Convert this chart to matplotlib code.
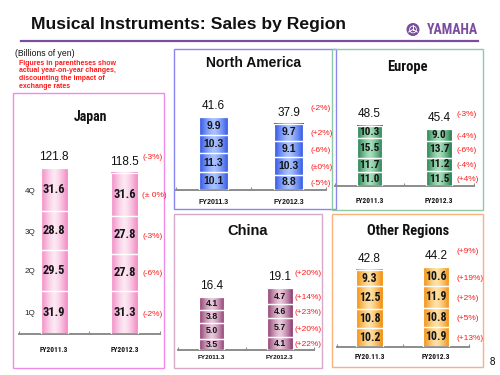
import numpy as np
import matplotlib
matplotlib.use("Agg")
import matplotlib.pyplot as plt
from matplotlib import font_manager
from matplotlib.font_manager import FontProperties
from matplotlib.colors import LinearSegmentedColormap
from matplotlib.patches import Rectangle, Circle
from matplotlib.lines import Line2D

# ---------------- data ----------------
quarters = ['1Q', '2Q', '3Q', '4Q']
years = ['FY2011.3', 'FY2012.3']
years_other = ['FY20.11.3', 'FY2012.3']

japan_2011 = [31.9, 29.5, 28.8, 31.6]
japan_2012 = [31.3, 27.8, 27.8, 31.6]
japan_totals = [121.8, 118.5]
japan_chg = ['(-2%)', '(-6%)', '(-3%)', '(± 0%)']
japan_chg_total = '(-3%)'

na_2011 = [10.1, 11.3, 10.3, 9.9]
na_2012 = [8.8, 10.3, 9.1, 9.7]
na_totals = [41.6, 37.9]
na_chg = ['(-5%)', '(±0%)', '(-6%)', '(+2%)']
na_chg_total = '(-2%)'

eu_2011 = [11.0, 11.7, 15.5, 10.3]
eu_2012 = [11.5, 11.2, 13.7, 9.0]
eu_totals = [48.5, 45.4]
eu_chg = ['(+4%)', '(-4%)', '(-6%)', '(-4%)']
eu_chg_total = '(-3%)'

cn_2011 = [3.5, 5.0, 3.8, 4.1]
cn_2012 = [4.1, 5.7, 4.6, 4.7]
cn_totals = [16.4, 19.1]
cn_chg = ['(+22%)', '(+20%)', '(+23%)', '(+14%)']
cn_chg_total = '(+20%)'

ot_2011 = [10.2, 10.8, 12.5, 9.3]
ot_2012 = [10.9, 10.8, 11.9, 10.6]
ot_totals = [42.8, 44.2]
ot_chg = ['(+13%)', '(+5%)', '(+2%)', '(+19%)']
ot_chg_total = '(+9%)'

# ---------------- fonts ----------------
SANS = ['Liberation Sans', 'DejaVu Sans']


def _find_condensed_bold():
    best, best_rank = None, 99
    for f in font_manager.fontManager.ttflist:
        n = f.name.lower()
        fn = f.fname.lower()
        st = str(f.stretch).lower()
        cond = ('narrow' in n or 'condensed' in n or 'narrow' in fn or 'condensed' in fn
                or st in ('condensed', 'semi-condensed', 'extra-condensed'))
        w = f.weight
        bold = (w in ('bold', 'heavy', 'black', 'demibold', 'semibold')
                or (isinstance(w, int) and w >= 600))
        if not (cond and bold) or 'oblique' in fn or 'italic' in fn:
            continue
        if 'liberation' in n:
            rank = 0
        elif 'arial' in n:
            rank = 1
        elif 'roboto' in n:
            rank = 2
        elif 'open' in n:
            rank = 3
        elif 'dejavu' in n:
            rank = 5
        else:
            rank = 4
        if rank < best_rank:
            best, best_rank = f, rank
    return best, best_rank


_cond, _cond_rank = _find_condensed_bold()
_cscale = 1.0 if _cond_rank <= 1 else (0.95 if _cond_rank <= 4 else 0.88)


def cfont(size):
    if _cond is not None:
        return FontProperties(fname=_cond.fname, size=size * _cscale)
    return FontProperties(family=SANS, weight='bold', size=size * 0.85)


def sfont(size, weight='bold'):
    return FontProperties(family=SANS, weight=weight, size=size)


# ---------------- styling / layout ----------------
W, H = 500, 375
fig = plt.figure(figsize=(5, 3.75), dpi=100)
fig.patch.set_facecolor('white')

RED = '#ff1a1a'
PURPLE = '#7a4d9e'


def fx(px):
    return px / W


def fy(py):
    return 1 - py / H


def box(x0, y0, x1, y1, color):
    fig.add_artist(Rectangle((fx(x0), fy(y1)), fx(x1 - x0), (y1 - y0) / H,
                             transform=fig.transFigure, fill=False,
                             edgecolor=color, lw=1.0, zorder=0))


# Title and header
fig.text(fx(31), fy(24), 'Musical Instruments: Sales by Region', family=SANS,
         fontsize=12.6, fontweight='bold', va='center', ha='left', color='#111111')
fig.add_artist(Line2D([fx(21), fx(478)], [fy(41), fy(41)], transform=fig.transFigure,
                      color=PURPLE, lw=1.6))
fig.text(fx(478), fy(29.5), 'YAMAHA', fontproperties=cfont(10.5),
         color=PURPLE, va='center', ha='right')
cx, cy = 413 / 100, (H - 29.5) / 100
fig.add_artist(Circle((cx, cy), 0.058, transform=fig.dpi_scale_trans, color=PURPLE))
fig.add_artist(Circle((cx, cy), 0.034, transform=fig.dpi_scale_trans, fill=False,
                      edgecolor='white', lw=0.6))
for ang in (90, 210, 330):
    a = np.deg2rad(ang)
    fig.add_artist(Line2D([cx, cx + 0.05 * np.cos(a)], [cy, cy + 0.05 * np.sin(a)],
                          transform=fig.dpi_scale_trans, color='white', lw=0.7))

fig.text(fx(15), fy(53), '(Billions of yen)', family=SANS, fontsize=6.2,
         va='center', ha='left', color='#111111')
fig.text(fx(19), fy(60), 'Figures in parentheses show\nactual year-on-year changes,\n'
         'discounting the impact of\nexchange rates', family=SANS, fontsize=5,
         fontweight='bold', color=RED, va='top', ha='left', linespacing=1.1)
fig.text(fx(492), fy(362), '8', family=SANS, fontsize=7, va='center', ha='center')

# Panel boxes
box(13, 93, 164, 368, '#f08ae6')
box(174, 49, 336, 209, '#8a86f0')
box(332, 49, 483, 210, '#8ccaa6')
box(174, 214, 322, 368, '#d8a8c8')
box(332, 214, 483, 367, '#f9b27e')

panels = [
    dict(name='Japan', v11=japan_2011, v12=japan_2012, tot=japan_totals, chg=japan_chg,
         chg_tot=japan_chg_total, cats=years,
         x0=19, x1=160, base=334, scale=1.36, ymax=140, bw=0.38,
         edge='#f287c4', center='#fde8f3', title_xy=(90, 117),
         title_fp=cfont(10.5), seg_fp=cfont(9.5), tick_fp=cfont(5.6),
         tick_pad=9, pct_dx=3),
    dict(name='North America', v11=na_2011, v12=na_2012, tot=na_totals, chg=na_chg,
         chg_tot=na_chg_total, cats=years,
         x0=176, x1=326, base=190, scale=1.745, ymax=45, bw=0.39,
         edge='#2a4fe4', center='#a9c2ff', title_xy=(253, 63),
         title_fp=sfont(10), seg_fp=sfont(7.5), tick_fp=sfont(5),
         tick_pad=6.5, pct_dx=5),
    dict(name='Europe', v11=eu_2011, v12=eu_2012, tot=eu_totals, chg=eu_chg,
         chg_tot=eu_chg_total, cats=years,
         x0=334.75, x1=473.75, base=185.7, scale=1.24, ymax=52, bw=0.37,
         edge='#1d7a49', center='#a6dfbb', title_xy=(407, 67),
         title_fp=cfont(11), seg_fp=cfont(8.5), tick_fp=cfont(5.6),
         tick_pad=8, pct_dx=3),
    dict(name='China', v11=cn_2011, v12=cn_2012, tot=cn_totals, chg=cn_chg,
         chg_tot=cn_chg_total, cats=years,
         x0=177.5, x1=314, base=350, scale=3.22, ymax=20, bw=0.37,
         edge='#8a3669', center='#e9c8dc', title_xy=(248, 231),
         title_fp=sfont(10.5), seg_fp=sfont(6.3), tick_fp=sfont(4.6),
         tick_pad=3.5, pct_dx=1.5),
    dict(name='Other Regions', v11=ot_2011, v12=ot_2012, tot=ot_totals, chg=ot_chg,
         chg_tot=ot_chg_total, cats=years_other,
         x0=336.5, x1=469, base=346.7, scale=1.80, ymax=48, bw=0.40,
         edge='#f28a04', center='#ffe2a6', title_xy=(408, 231),
         title_fp=cfont(11), seg_fp=cfont(9), tick_fp=cfont(5.6),
         tick_pad=4.5, pct_dx=5),
]

grad = np.abs(np.linspace(-1, 1, 80)) ** 1.4

for p in panels:
    hpx = p['ymax'] * p['scale']
    ax = fig.add_axes([fx(p['x0']), fy(p['base']), fx(p['x1'] - p['x0']), hpx / H])
    ax.patch.set_visible(False)
    for s in ('left', 'right', 'top'):
        ax.spines[s].set_visible(False)
    ax.spines['bottom'].set_color('#8c8c8c')
    ax.spines['bottom'].set_linewidth(1.4)
    ax.set_yticks([])

    cmap = LinearSegmentedColormap.from_list('g', [p['center'], p['edge']])
    xs = np.arange(len(p['cats']))
    series = [p['v11'], p['v12']]
    bw = p['bw']
    for i, vals in enumerate(series):
        bottoms = np.concatenate([[0], np.cumsum(vals)[:-1]])
        bars = ax.bar([xs[i]] * len(vals), vals, bw, bottom=bottoms,
                      facecolor='none', edgecolor='white', lw=0.9, zorder=3)
        top = float(np.sum(vals))
        ax.imshow(grad[None, :], extent=(xs[i] - bw / 2, xs[i] + bw / 2, 0, top),
                  aspect='auto', cmap=cmap, vmin=0, vmax=1, interpolation='bilinear',
                  zorder=2)
        for b, v in zip(bars, vals):
            ax.text(b.get_x() + b.get_width() / 2, b.get_y() + b.get_height() / 2,
                    f'{v:.1f}', ha='center', va='center', fontproperties=p['seg_fp'],
                    color='#151515', zorder=4)
        ax.annotate(f"{p['tot'][i]:.1f}", (xs[i], top), xytext=(0, 8),
                    textcoords='offset points', ha='center', va='center',
                    family=SANS, fontsize=8.5, color='#111111')
        if i == 1:
            xr = xs[i] + bw / 2
            for b, c in zip(bars, p['chg']):
                ax.annotate(c, (xr, b.get_y() + b.get_height() / 2),
                            xytext=(p['pct_dx'], -1), textcoords='offset points',
                            ha='left', va='center', family=SANS, fontsize=6,
                            color=RED)
            ax.annotate(p['chg_tot'], (xr, top), xytext=(p['pct_dx'], 11),
                        textcoords='offset points', ha='left', va='center',
                        family=SANS, fontsize=6, color=RED)
        if p['name'] == 'Japan' and i == 0:
            for b, q in zip(bars, quarters):
                ax.annotate(q, (b.get_x(), b.get_y() + b.get_height() / 2),
                            xytext=(-8, -1), textcoords='offset points', ha='center',
                            va='center', family=SANS, fontsize=5.8, color='#222222')

    ax.set_xlim(-0.5, len(p['cats']) - 0.5)
    ax.set_ylim(0, p['ymax'])
    ax.set_xticks(xs)
    ax.set_xticklabels(p['cats'], color='#111111')
    for t in ax.get_xticklabels():
        t.set_fontproperties(p['tick_fp'])
    ax.tick_params(axis='x', which='major', length=0, pad=p['tick_pad'])
    ax.set_xticks(np.arange(len(p['cats']) + 1) - 0.5, minor=True)
    ax.tick_params(axis='x', which='minor', direction='in', length=2.5,
                   color='#8c8c8c', width=0.8)

    fig.text(fx(p['title_xy'][0]), fy(p['title_xy'][1]), p['name'],
             fontproperties=p['title_fp'], ha='center', va='center', color='#111111')

fig.savefig('out.png', dpi=100)
